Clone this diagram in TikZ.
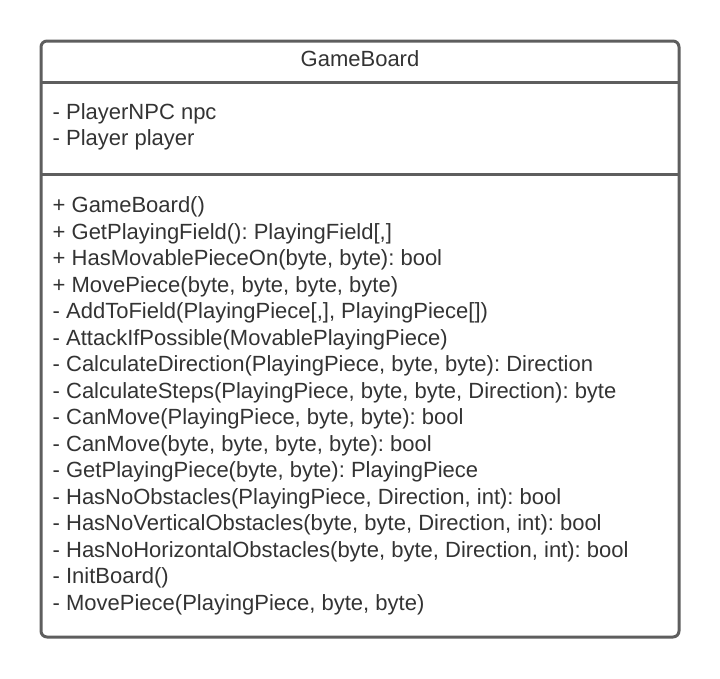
\documentclass[tikz,border=0pt]{standalone}
\usepackage{fontspec}
\setmainfont{Liberation Sans}
\frenchspacing
\definecolor{boxline}{HTML}{5E5E5E}
\definecolor{boxtext}{HTML}{333333}
\tikzset{
  member/.style={anchor=base west,inner sep=0pt,text=boxtext,font=\fontsize{22}{26}\selectfont},
  rule/.style={line width=3pt,boxline}
}

\begin{document}
\begin{tikzpicture}[x=1pt,y=-1pt]
\useasboundingbox (0,0) rectangle (720,678);
\draw[rule,rounded corners=6pt] (41,41) rectangle (679,637);
\draw[rule] (41,82)--(679,82);
\draw[rule] (41,174)--(679,174);

\node[member,anchor=base] (title) at (360,66.5) {GameBoard};

\node[member] (a1) at (52.5,119) {- PlayerNPC npc};
\node[member] (a2) at (52.5,145.5) {- Player player};

\foreach \txt [count=\i from 0] in {
  {+ GameBoard()},
  {+ GetPlayingField(): PlayingField[,]},
  {+ HasMovablePieceOn(byte, byte): bool},
  {+ MovePiece(byte, byte, byte, byte)},
  {- AddToField(PlayingPiece[,], PlayingPiece[])},
  {- AttackIfPossible(MovablePlayingPiece)},
  {- CalculateDirection(PlayingPiece, byte, byte): Direction},
  {- CalculateSteps(PlayingPiece, byte, byte, Direction): byte},
  {- CanMove(PlayingPiece, byte, byte): bool},
  {- CanMove(byte, byte, byte, byte): bool},
  {- GetPlayingPiece(byte, byte): PlayingPiece},
  {- HasNoObstacles(PlayingPiece, Direction, int): bool},
  {- HasNoVerticalObstacles(byte, byte, Direction, int): bool},
  {- HasNoHorizontalObstacles(byte, byte, Direction, int): bool},
  {- InitBoard()},
  {- MovePiece(PlayingPiece, byte, byte)}}
  \node[member] (m\i) at (52.5,{212.5+\i*26.5}) {\txt};

\end{tikzpicture}
\end{document}
